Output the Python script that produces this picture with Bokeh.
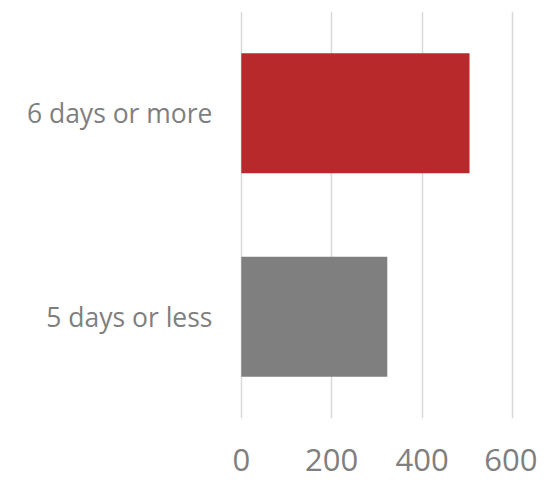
from bokeh.plotting import figure
from bokeh.models import Range1d, FactorRange, FixedTicker
from bokeh.embed import file_html
from bokeh.resources import INLINE

categories = ["5 days or less", "6 days or more"]
values = [323, 505]
colors = ["#7F7F7F", "#B8292B"]
x_ticks = [0, 200, 400, 600]

p = figure(
    y_range=FactorRange(*categories, range_padding=0),
    x_range=Range1d(-4, 620),
    frame_width=282, frame_height=407,
    min_border_left=239, min_border_right=16,
    min_border_top=11, min_border_bottom=63,
    output_backend="svg", toolbar_location=None,
)
p.hbar(y=categories, right=values, left=0, height=0.59, color=colors, line_color=None)

p.outline_line_color = None
p.background_fill_color = "white"
p.border_fill_color = "white"

p.ygrid.grid_line_color = None
p.xgrid.grid_line_color = "#D9D9D9"
p.xgrid.grid_line_width = 1.5
p.xaxis.ticker = FixedTicker(ticks=x_ticks)

for ax in (p.xaxis, p.yaxis):
    ax.axis_line_color = None
    ax.major_tick_line_color = None
    ax.minor_tick_line_color = None
    ax.major_label_text_color = "#7F7F7F"
    ax.major_label_text_font = "Open Sans"

p.xaxis.major_label_text_font_size = "31px"
p.xaxis.major_label_standoff = 24
p.yaxis.major_label_text_font_size = "26.5px"
p.yaxis.major_label_standoff = 21

open("out.html", "w").write(file_html(p, INLINE))
